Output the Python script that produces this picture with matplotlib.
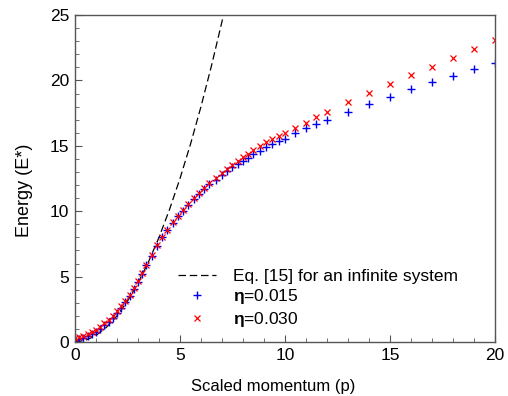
import numpy as np
import matplotlib
matplotlib.use('Agg')
import matplotlib.pyplot as plt
from matplotlib.ticker import MultipleLocator

plt.rcParams['font.family'] = ['Liberation Sans', 'DejaVu Sans']
plt.rcParams['mathtext.fontset'] = 'custom'
plt.rcParams['mathtext.rm'] = 'Liberation Sans'
plt.rcParams['mathtext.bf'] = 'Liberation Sans:bold'

# scaled momentum values of the simulated points
p = [0.0, 0.2, 0.4, 0.6, 0.8, 1.0, 1.2, 1.4, 1.6, 1.8, 2.0, 2.2, 2.4, 2.6, 2.8,
     3.0, 3.2, 3.4, 3.65, 3.9, 4.15, 4.4, 4.65, 4.9, 5.15, 5.4, 5.65, 5.9, 6.15,
     6.4, 6.7, 7.0, 7.25, 7.5, 7.75, 8.0, 8.25, 8.5, 8.8, 9.1, 9.4, 9.7, 10.0,
     10.5, 11.0, 11.5, 12.0, 13.0, 14.0, 15.0, 16.0, 17.0, 18.0, 19.0, 20.0]

# eta = 0.015
e_015 = [0.15, 0.2, 0.3, 0.45, 0.6, 0.8, 1.02, 1.27, 1.55, 1.85, 2.2, 2.6, 3.05,
         3.55, 4.05, 4.6, 5.2, 5.85, 6.6, 7.35, 8.0, 8.55, 9.1, 9.6, 10.05, 10.5,
         10.9, 11.3, 11.7, 12.05, 12.4, 12.75, 13.05, 13.35, 13.6, 13.85, 14.05,
         14.35, 14.6, 14.9, 15.15, 15.35, 15.55,
         15.95, 16.34, 16.67, 16.97, 17.61, 18.2, 18.76, 19.32, 19.85, 20.34,
         20.85, 21.35]

# eta = 0.030
e_030 = [0.3, 0.35, 0.45, 0.58, 0.75, 0.95, 1.18, 1.42, 1.7, 2.0, 2.35, 2.72,
         3.15, 3.62, 4.12, 4.65, 5.25, 5.9, 6.65, 7.4, 8.05, 8.6, 9.15, 9.65,
         10.12, 10.57, 10.98, 11.4, 11.8, 12.17, 12.55, 12.92, 13.25, 13.57,
         13.85, 14.12, 14.4, 14.68, 14.98, 15.27, 15.52, 15.77, 16.0,
         16.38, 16.77, 17.18, 17.56, 18.32, 19.01, 19.72, 20.41, 21.05, 21.74,
         22.4, 23.09]

# Eq. [15], infinite system
p_eq = [0.0, 0.5, 1.0, 1.5, 2.0, 2.5, 3.0, 3.5, 4.0, 4.5, 5.0, 5.5, 6.0, 6.5,
        7.0, 7.5]
e_eq = [0.0, 0.125, 0.5, 1.125, 2.0, 3.125, 4.5, 6.125, 8.0, 10.125, 12.5,
        15.125, 18.0, 21.125, 24.5, 28.125]

fig = plt.figure(figsize=(5.08, 3.96), dpi=100)
ax = fig.add_axes([0.1476, 0.1364, 0.8268, 0.8256])

ax.plot(p_eq, e_eq, color='black', linestyle=(0, (6, 3)), linewidth=0.9,
        label='Eq. [15] for an infinite system')
ax.plot(p, e_015, linestyle='none', marker='+', color='#0000ee',
        markersize=6, markeredgewidth=1.0, label=r'$\mathbf{\eta}$=0.015')
ax.plot(p, e_030, linestyle='none', marker='x', color='#ff0000',
        markersize=5, markeredgewidth=0.9, label=r'$\mathbf{\eta}$=0.030')

ax.set_xlim(0, 20)
ax.set_ylim(0, 25)
ax.xaxis.set_major_locator(MultipleLocator(5))
ax.xaxis.set_minor_locator(MultipleLocator(1))
ax.yaxis.set_major_locator(MultipleLocator(5))
ax.yaxis.set_minor_locator(MultipleLocator(1))
ax.tick_params(which='both', direction='in', top=False, right=False,
               labelsize=12.5, color='#555555')
ax.tick_params(which='major', length=5, pad=4)
ax.tick_params(which='minor', length=3)
for s in ax.spines.values():
    s.set_color('#555555')
    s.set_linewidth(1.0)

ax.set_xlabel('Scaled momentum (p)', fontsize=12)
ax.set_ylabel('Energy (E*)', fontsize=13)
ax.xaxis.set_label_coords(0.473, -0.113)
ax.yaxis.set_label_coords(-0.1, 0.465)

ax.legend(loc='lower left', bbox_to_anchor=(0.245, 0.04), frameon=False,
          fontsize=12.5, borderpad=0, borderaxespad=0, handlelength=2.2,
          handletextpad=1.0, labelspacing=0.2)

plt.savefig('out.png', dpi=100)
plt.close()
